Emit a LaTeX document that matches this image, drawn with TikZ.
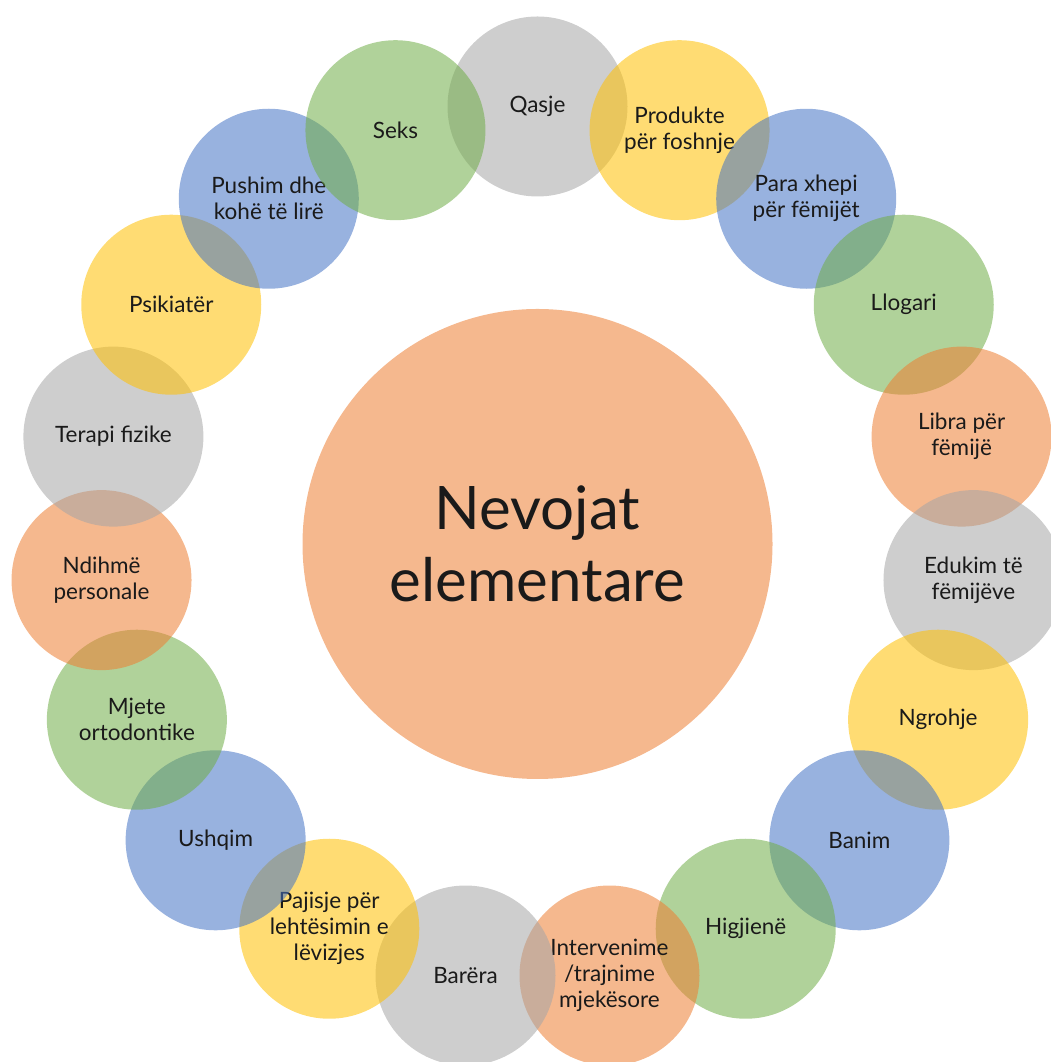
\documentclass[tikz,border=0pt]{standalone}
\usepackage{fontspec}
\setmainfont{Lato}
\definecolor{cOrange}{HTML}{ED7D31}
\definecolor{cGray}{HTML}{A5A5A5}
\definecolor{cYellow}{HTML}{FFC000}
\definecolor{cBlue}{HTML}{4472C4}
\definecolor{cGreen}{HTML}{70AD47}
\definecolor{cText}{HTML}{1A1A1A}
\begin{document}
\begin{tikzpicture}[x=1pt,y=1pt]
\tikzset{
  bubble/.style={circle, minimum size=180pt, inner sep=0pt, fill opacity=0.55, text opacity=1,
    align=center, text=cText, font=\fontsize{22.5}{26}\selectfont},
  hub/.style={bubble, minimum size=470pt, font=\fontsize{60}{72}\selectfont}
}
\useasboundingbox (0,0) rectangle (1051,1062);
\coordinate (ctr) at (537.5,518);
\node[hub, fill=cOrange] (main) at (ctr) {Nevojat\\elementare};
\foreach \i/\txt/\col in {
  0/{Qasje}/cGray,
  1/{Produkte\\për foshnje}/cYellow,
  2/{Para xhepi\\për fëmijët}/cBlue,
  3/{Llogari}/cGreen,
  4/{Libra për\\fëmijë}/cOrange,
  5/{Edukim të\\fëmijëve}/cGray,
  6/{Ngrohje}/cYellow,
  7/{Banim}/cBlue,
  8/{Higjienë}/cGreen,
  9/{Intervenime\\/trajnime\\mjekësore}/cOrange,
  10/{Barëra}/cGray,
  11/{Pajisje për\\lehtësimin e\\lëvizjes}/cYellow,
  12/{Ushqim}/cBlue,
  13/{Mjete\\ortodontike}/cGreen,
  14/{Ndihmë\\personale}/cOrange,
  15/{Terapi fizike}/cGray,
  16/{Psikiatër}/cYellow,
  17/{Pushim dhe\\kohë të lirë}/cBlue,
  18/{Seks}/cGreen}
{
  \node[bubble, fill=\col] (n\i) at ({537.5+437.5*cos(90-\i*360/19)},{518+437.5*sin(90-\i*360/19)}) {\txt};
}
\end{tikzpicture}
\end{document}
